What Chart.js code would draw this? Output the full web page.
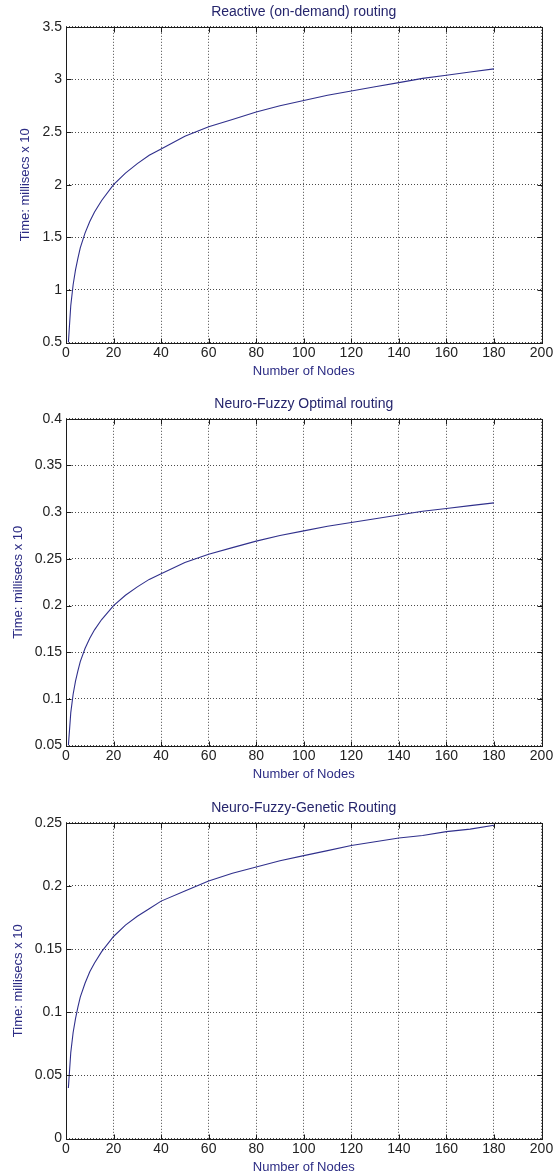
<!DOCTYPE html>
<html>
<head>
<meta charset="utf-8">
<title>Routing time vs number of nodes</title>
<script src="https://cdn.jsdelivr.net/npm/chart.js@4.4.1/dist/chart.umd.min.js"></script>
<style>
  html, body { margin: 0; padding: 0; background: #fff; overflow: hidden; }
  #page { position: relative; width: 558px; height: 1175px; overflow: hidden; background: #fff; }
  #page canvas { position: absolute; left: 0; }
</style>
</head>
<body>
<div id="page">
  <canvas id="reactiveChart" width="558" height="381" style="top:0px"></canvas>
  <canvas id="fuzzyChart" width="558" height="392" style="top:392px"></canvas>
  <canvas id="geneticChart" width="558" height="381" style="top:796px"></canvas>
</div>
<script>
// === DATA ===
const nodeCounts = [1, 2, 3, 4, 5, 6, 8, 10, 12, 15, 20, 25, 30, 35, 40, 50, 60, 70, 80, 90, 100, 110, 120, 130, 140, 150, 160, 170, 180];
const reactiveTimes = [0.50, 0.85, 1.05, 1.19, 1.30, 1.40, 1.54, 1.65, 1.74, 1.85, 2.00, 2.11, 2.20, 2.28, 2.34, 2.46, 2.55, 2.62, 2.69, 2.75, 2.80, 2.85, 2.89, 2.93, 2.97, 3.01, 3.04, 3.07, 3.10];
const fuzzyTimes = [0.050, 0.085, 0.105, 0.119, 0.130, 0.140, 0.154, 0.165, 0.174, 0.185, 0.200, 0.211, 0.220, 0.228, 0.234, 0.246, 0.255, 0.262, 0.269, 0.275, 0.280, 0.285, 0.289, 0.293, 0.297, 0.301, 0.304, 0.307, 0.310];
const geneticTimes = [0.040, 0.068, 0.084, 0.095, 0.104, 0.112, 0.123, 0.132, 0.139, 0.148, 0.160, 0.169, 0.176, 0.182, 0.188, 0.196, 0.204, 0.210, 0.215, 0.220, 0.224, 0.228, 0.232, 0.235, 0.238, 0.240, 0.243, 0.245, 0.248];

const nodeTicks = [0, 20, 40, 60, 80, 100, 120, 140, 160, 180, 200];
const reactiveTicks = [0.5, 1, 1.5, 2, 2.5, 3, 3.5];
const fuzzyTicks = [0.05, 0.1, 0.15, 0.2, 0.25, 0.3, 0.35, 0.4];
const geneticTicks = [0, 0.05, 0.1, 0.15, 0.2, 0.25];

const FONT = "'Liberation Sans', Arial, sans-serif";
const LINE_COLOR = '#30308c';
const LABEL_COLOR = '#2c2c84';

// === MATLAB-STYLE BOX WITH INWARD TICKS ===
const boxFrame = {
    id: 'boxFrame',
    afterDraw(chart) {
        const { ctx, chartArea: a, scales } = chart;
        const left = Math.round(a.left) + 0.5, right = Math.round(a.right) + 0.5;
        const top = Math.round(a.top) + 0.5, bottom = Math.round(a.bottom) + 0.5;
        ctx.save();
        ctx.strokeStyle = '#1c1c1c';
        ctx.lineWidth = 1;
        ctx.strokeRect(left, top, right - left, bottom - top);
        ctx.beginPath();
        scales.x.ticks.forEach(t => {
            const px = Math.round(scales.x.getPixelForValue(t.value)) + 0.5;
            ctx.moveTo(px, bottom); ctx.lineTo(px, bottom - 5);
            ctx.moveTo(px, top); ctx.lineTo(px, top + 5);
        });
        scales.y.ticks.forEach(t => {
            const py = Math.round(scales.y.getPixelForValue(t.value)) + 0.5;
            ctx.moveTo(left, py); ctx.lineTo(left + 5, py);
            ctx.moveTo(right, py); ctx.lineTo(right - 5, py);
        });
        ctx.stroke();
        ctx.restore();
    }
};

function fmt(v) {
    return String(parseFloat(Number(v).toFixed(3)));
}

function makeChart(id, title, values, yTicks, yTitlePad) {
    const ctx = document.getElementById(id).getContext('2d');
    return new Chart(ctx, {
        type: 'scatter',
        data: {
            datasets: [{
                data: nodeCounts.map((n, i) => ({ x: n, y: values[i] })),
                showLine: true,
                borderColor: LINE_COLOR,
                borderWidth: 1.1,
                pointRadius: 0,
                tension: 0,
                fill: false
            }]
        },
        options: {
            responsive: false,
            animation: false,
            layout: { padding: { left: 0, right: 16.5, top: 0, bottom: 0 } },
            plugins: {
                legend: { display: false },
                tooltip: { enabled: false },
                title: {
                    display: true,
                    text: title,
                    fullSize: false,
                    color: '#25256c',
                    font: { family: FONT, size: 14, weight: 'normal' },
                    padding: { top: 4, bottom: 6 }
                }
            },
            scales: {
                x: {
                    type: 'linear',
                    min: nodeTicks[0],
                    max: nodeTicks[nodeTicks.length - 1],
                    afterBuildTicks: s => { s.ticks = nodeTicks.map(v => ({ value: v })); },
                    grid: { color: '#4a4a4a', lineWidth: 1, drawTicks: false },
                    border: { display: false, dash: [1, 2] },
                    ticks: {
                        padding: 2,
                        color: '#222',
                        font: { family: FONT, size: 14 },
                        maxRotation: 0,
                        autoSkip: false,
                        callback: v => fmt(v)
                    },
                    title: {
                        display: true,
                        text: 'Number of Nodes',
                        color: LABEL_COLOR,
                        font: { family: FONT, size: 13 },
                        padding: { top: 0, bottom: 2 }
                    }
                },
                y: {
                    type: 'linear',
                    min: yTicks[0],
                    max: yTicks[yTicks.length - 1],
                    afterBuildTicks: s => { s.ticks = yTicks.map(v => ({ value: v })); },
                    afterFit: s => { s.width = 66; },
                    grid: { color: '#4a4a4a', lineWidth: 1, drawTicks: false },
                    border: { display: false, dash: [1, 2] },
                    ticks: {
                        padding: 4,
                        color: '#222',
                        font: { family: FONT, size: 14 },
                        autoSkip: false,
                        callback: v => fmt(v)
                    },
                    title: {
                        display: true,
                        text: 'Time: millisecs x 10',
                        color: LABEL_COLOR,
                        font: { family: FONT, size: 13 },
                        padding: { top: yTitlePad, bottom: 0 }
                    }
                }
            }
        },
        plugins: [boxFrame]
    });
}

makeChart('reactiveChart', 'Reactive (on-demand) routing', reactiveTimes, reactiveTicks, 18);
makeChart('fuzzyChart', 'Neuro-Fuzzy Optimal routing', fuzzyTimes, fuzzyTicks, 11);
makeChart('geneticChart', 'Neuro-Fuzzy-Genetic Routing', geneticTimes, geneticTicks, 11);
</script>
</body>
</html>
